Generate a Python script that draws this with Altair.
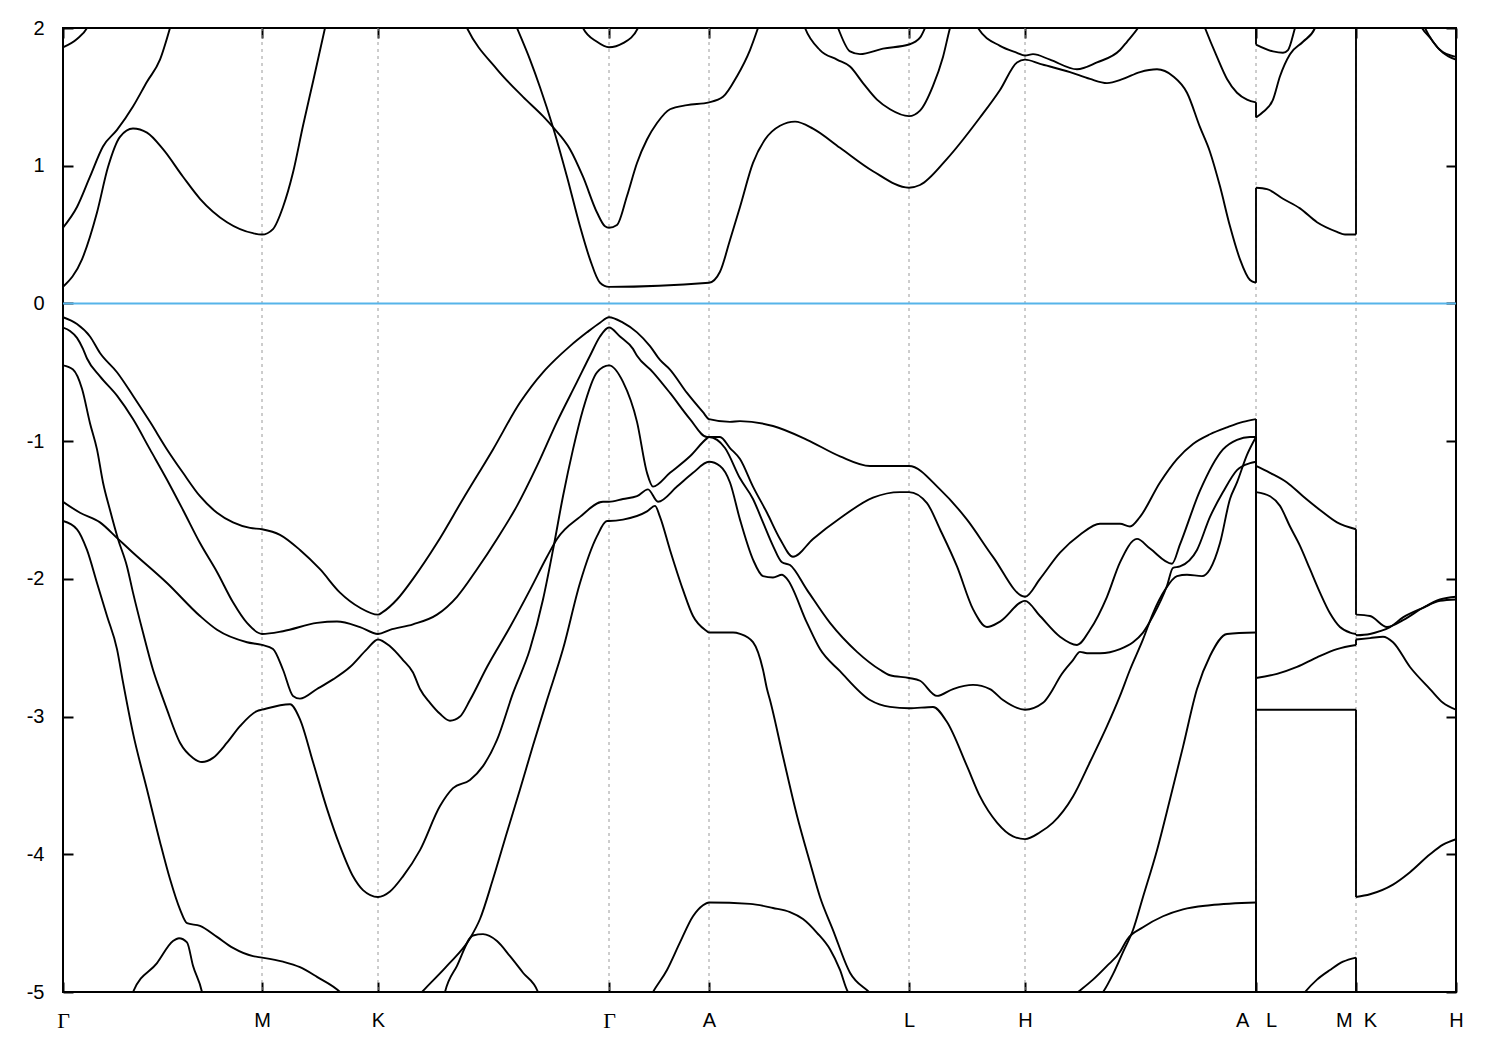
import altair as alt
import pandas as pd

# ---------------- high-symmetry path ----------------
NB = "\u00a0"
SYM_K = [0, 199, 315, 546, 646, 846, 962, 1193, 1293, 1393]
SYM_LABEL = ["Γ", "M", "K", "Γ", "A", "L", "H", "A" + NB * 3 + "L", "M" + NB * 2 + "K", "H"]
E_TICKS = [2, 1, 0, -1, -2, -3, -4, -5]
E_MIN, E_MAX = -5, 2

# ---------------- conduction bands ----------------
c1_k = [0,19,34,45,57,70,84,100,120,137,164,190,199,210,220,230,240,250,262,277,315,437,454,467,477,490,504,517,527,537,546,646,657,667,677,690,702,717,732,750,777,810,846,857,884,917,937,954,962,977,1007,1027,1044,1060,1077,1094,1110,1124,1137,1147,1157,1167,1177,1187,1193,1193,1204,1220,1237,1254,1274,1282,1293,1293,1345,1362,1370,1380,1393]
c1_e = [0.12,0.32,0.66,0.99,1.21,1.27,1.24,1.12,0.92,0.76,0.59,0.51,0.50,0.54,0.70,0.95,1.29,1.61,2.0,2.5,3.0,2.3,2.0,1.77,1.57,1.28,0.92,0.56,0.32,0.15,0.12,0.15,0.23,0.46,0.70,1.02,1.19,1.29,1.32,1.27,1.13,0.96,0.84,0.86,1.05,1.35,1.55,1.75,1.77,1.74,1.68,1.63,1.60,1.63,1.68,1.70,1.65,1.53,1.28,1.10,0.85,0.56,0.32,0.17,0.15,0.84,0.83,0.76,0.69,0.59,0.52,0.50,0.50,2.6,2.4,2.0,1.90,1.82,1.77]

c2_k = [0,14,27,40,54,70,84,97,107,127,315,387,404,434,460,480,490,507,520,534,542,546,554,564,574,584,594,607,624,646,660,674,687,695,712,727,742,757,774,787,800,814,827,846,857,870,880,887,902,915,937,954,962,970,987,1014,1034,1057,1064,1075,1097,1127,1142,1154,1164,1174,1184,1193,1193,1200,1210,1217,1227,1240,1252,1267,1293,1340,1359,1367,1377,1384,1393]
c2_e = [0.55,0.70,0.92,1.14,1.26,1.43,1.61,1.77,2.0,2.6,3.0,2.3,2.0,1.70,1.50,1.36,1.28,1.12,0.92,0.66,0.56,0.55,0.57,0.78,1.02,1.19,1.31,1.41,1.44,1.46,1.50,1.65,1.84,2.0,2.4,2.4,2.0,1.84,1.77,1.72,1.60,1.48,1.41,1.36,1.40,1.58,1.79,2.0,2.3,2.0,1.87,1.82,1.80,1.81,1.77,1.70,1.75,1.84,1.90,2.0,2.3,2.3,2.0,1.79,1.63,1.53,1.48,1.46,1.35,1.39,1.48,1.65,1.81,1.90,2.0,2.4,2.8,2.4,2.0,1.93,1.84,1.81,1.79]

c3_k = [0,14,24,47,497,520,534,546,560,575,597,757,775,787,797,820,846,857,862,877,1193,1193,1210,1220,1225,1232,1247]
c3_e = [1.86,1.92,2.0,2.6,2.6,2.0,1.90,1.86,1.89,2.0,2.6,2.4,2.0,1.83,1.81,1.85,1.88,1.93,2.0,2.3,2.3,1.88,1.83,1.82,1.84,2.0,2.4]

# ---------------- valence bands ----------------
v1_k = [0,14,27,37,54,70,87,104,120,137,154,170,187,199,217,237,257,277,297,315,320,334,350,374,400,430,457,480,492,507,524,537,546,560,574,587,597,607,624,640,646,667,677,710,744,777,807,846,877,904,930,962,977,997,1017,1037,1057,1067,1077,1097,1114,1130,1147,1164,1180,1193,1193,1207,1224,1240,1257,1274,1293,1293,1307,1324,1340,1360,1377,1393]
v1_e = [-0.10,-0.15,-0.24,-0.36,-0.50,-0.67,-0.86,-1.06,-1.23,-1.40,-1.52,-1.59,-1.63,-1.64,-1.68,-1.79,-1.93,-2.10,-2.21,-2.26,-2.24,-2.15,-2.0,-1.74,-1.42,-1.06,-0.72,-0.50,-0.41,-0.31,-0.21,-0.14,-0.10,-0.14,-0.21,-0.31,-0.41,-0.48,-0.65,-0.79,-0.84,-0.86,-0.855,-0.89,-0.99,-1.11,-1.18,-1.18,-1.35,-1.57,-1.84,-2.13,-2.0,-1.81,-1.68,-1.60,-1.60,-1.62,-1.55,-1.30,-1.13,-1.02,-0.95,-0.90,-0.86,-0.84,-1.18,-1.23,-1.30,-1.40,-1.50,-1.59,-1.64,-2.26,-2.27,-2.35,-2.30,-2.21,-2.15,-2.13]

v2_k = [0,7,14,20,24,37,54,70,87,104,120,137,154,170,184,199,220,254,274,297,315,327,350,374,394,414,434,454,474,494,514,527,537,546,557,570,574,590,607,627,644,646,662,677,690,700,710,719,727,744,767,794,817,827,846,857,874,890,910,927,940,962,980,990,997,1010,1017,1024,1037,1057,1070,1080,1090,1104,1110,1117,1134,1147,1160,1174,1187,1193,1193,1214,1234,1254,1274,1293,1293,1307,1320,1330,1347,1367,1380,1393]
v2_e = [-0.175,-0.20,-0.25,-0.33,-0.40,-0.53,-0.67,-0.84,-1.06,-1.28,-1.50,-1.74,-1.95,-2.17,-2.32,-2.40,-2.38,-2.32,-2.31,-2.35,-2.40,-2.37,-2.33,-2.26,-2.13,-1.93,-1.71,-1.47,-1.18,-0.86,-0.57,-0.38,-0.24,-0.175,-0.24,-0.33,-0.38,-0.50,-0.65,-0.84,-0.97,-0.97,-1.05,-1.27,-1.42,-1.59,-1.76,-1.88,-1.90,-2.08,-2.32,-2.53,-2.66,-2.70,-2.72,-2.74,-2.85,-2.80,-2.77,-2.80,-2.88,-2.95,-2.90,-2.80,-2.71,-2.59,-2.53,-2.54,-2.54,-2.51,-2.46,-2.39,-2.27,-2.05,-1.92,-1.91,-1.79,-1.55,-1.37,-1.21,-1.16,-1.15,-2.72,-2.69,-2.64,-2.57,-2.51,-2.48,-2.44,-2.43,-2.42,-2.46,-2.64,-2.80,-2.90,-2.95]

v3_k = [0,10,19,27,34,40,47,55,64,70,80,90,99,104,117,130,139,150,164,177,194,199,227,237,250,264,277,290,300,315,327,340,357,377,390,407,420,434,450,467,480,490,500,510,520,534,546,560,574,584,590,607,627,644,646,657,667,677,690,704,717,730,750,777,810,837,846,864,877,894,910,924,937,962,977,997,1014,1027,1044,1057,1074,1087,1109,1117,1137,1160,1174,1187,1193,1193,1207,1217,1227,1237,1247,1257,1267,1277,1287,1293,1293,1307,1317,1327,1340,1360,1377,1393]
v3_e = [-0.45,-0.48,-0.62,-0.87,-1.06,-1.30,-1.50,-1.71,-1.91,-2.10,-2.39,-2.66,-2.85,-2.95,-3.19,-3.30,-3.33,-3.30,-3.19,-3.07,-2.96,-2.95,-2.91,-3.02,-3.33,-3.67,-3.94,-4.16,-4.26,-4.31,-4.27,-4.16,-3.97,-3.65,-3.52,-3.46,-3.36,-3.17,-2.83,-2.51,-2.15,-1.79,-1.40,-1.06,-0.77,-0.50,-0.45,-0.57,-0.86,-1.23,-1.33,-1.23,-1.11,-0.98,-0.97,-0.97,-1.05,-1.13,-1.33,-1.52,-1.71,-1.84,-1.71,-1.56,-1.41,-1.37,-1.37,-1.45,-1.64,-1.91,-2.22,-2.35,-2.31,-2.16,-2.27,-2.42,-2.48,-2.37,-2.13,-1.88,-1.71,-1.78,-1.89,-1.75,-1.36,-1.06,-0.99,-0.97,-0.97,-1.37,-1.40,-1.47,-1.62,-1.76,-1.93,-2.10,-2.25,-2.35,-2.39,-2.40,-2.41,-2.40,-2.38,-2.35,-2.28,-2.21,-2.16,-2.15]

v4_k = [0,17,37,55,70,104,137,154,184,199,210,220,230,237,254,270,287,304,315,327,340,350,357,367,377,387,397,407,424,447,467,484,494,517,540,546,560,574,585,595,614,630,646,657,667,677,690,700,710,719,724,744,757,777,807,827,846,870,884,904,917,934,950,962,977,990,1010,1027,1044,1057,1067,1080,1090,1102,1114,1124,1139,1147,1157,1167,1174,1184,1193,1193,1264,1293,1293,1307,1330,1347,1367,1380,1393]
v4_e = [-1.44,-1.52,-1.59,-1.71,-1.81,-2.03,-2.27,-2.37,-2.46,-2.48,-2.51,-2.66,-2.85,-2.87,-2.80,-2.73,-2.64,-2.51,-2.44,-2.49,-2.59,-2.68,-2.80,-2.90,-2.98,-3.03,-3.0,-2.88,-2.64,-2.35,-2.08,-1.84,-1.71,-1.55,-1.44,-1.44,-1.42,-1.40,-1.35,-1.44,-1.33,-1.23,-1.15,-1.18,-1.30,-1.57,-1.86,-1.98,-1.99,-1.97,-2.0,-2.32,-2.51,-2.67,-2.88,-2.93,-2.94,-2.93,-3.04,-3.36,-3.58,-3.77,-3.87,-3.89,-3.84,-3.77,-3.58,-3.33,-3.07,-2.85,-2.66,-2.44,-2.25,-2.08,-1.98,-1.97,-1.98,-1.93,-1.74,-1.42,-1.30,-1.10,-0.97,-2.95,-2.95,-2.95,-4.31,-4.29,-4.22,-4.13,-4.0,-3.93,-3.89]

v5_k = [0,14,24,34,44,54,60,70,84,97,107,117,124,137,154,170,190,199,220,237,254,277,315,359,384,407,417,430,444,457,470,484,500,517,534,544,546,560,584,592,597,607,620,630,644,646,670,677,690,700,704,707,720,734,747,757,770,787,806,920,1040,1050,1060,1070,1080,1094,1107,1120,1134,1147,1164,1193,1193,1242,1254,1267,1280,1293,1293,1393]
v5_e = [-1.58,-1.64,-1.79,-2.03,-2.27,-2.51,-2.75,-3.12,-3.53,-3.91,-4.18,-4.40,-4.50,-4.52,-4.60,-4.68,-4.74,-4.75,-4.78,-4.82,-4.89,-5.0,-5.4,-5.0,-4.81,-4.61,-4.47,-4.18,-3.84,-3.53,-3.21,-2.88,-2.51,-2.03,-1.69,-1.58,-1.58,-1.57,-1.51,-1.47,-1.55,-1.79,-2.08,-2.27,-2.38,-2.39,-2.39,-2.40,-2.46,-2.66,-2.80,-2.88,-3.29,-3.72,-4.06,-4.31,-4.55,-4.86,-5.0,-5.6,-5.0,-4.87,-4.71,-4.55,-4.31,-3.97,-3.60,-3.22,-2.80,-2.56,-2.40,-2.39,-5.6,-5.0,-4.91,-4.84,-4.78,-4.75,-5.6,-5.6]

v6_k = [60,70,94,110,116,124,130,139,148]
v6_e = [-5.4,-5.0,-4.79,-4.63,-4.61,-4.64,-4.81,-5.0,-5.4]

v7_k = [372,382,394,410,420,434,447,460,475,485]
v7_e = [-5.4,-5.0,-4.81,-4.59,-4.58,-4.63,-4.74,-4.86,-5.0,-5.4]

v8_k = [546,590,604,617,630,640,646,687,710,727,740,754,767,777,785,900,1015,1030,1044,1057,1064,1080,1100,1120,1147,1193,1193]
v8_e = [-5.8,-5.0,-4.84,-4.64,-4.45,-4.37,-4.35,-4.36,-4.39,-4.42,-4.47,-4.57,-4.69,-4.84,-5.0,-5.6,-5.0,-4.91,-4.81,-4.71,-4.62,-4.53,-4.45,-4.40,-4.37,-4.35,-5.8]

bands = {
    "c1": (c1_k, c1_e), "c2": (c2_k, c2_e), "c3": (c3_k, c3_e),
    "v1": (v1_k, v1_e), "v2": (v2_k, v2_e), "v3": (v3_k, v3_e),
    "v4": (v4_k, v4_e), "v5": (v5_k, v5_e), "v6": (v6_k, v6_e),
    "v7": (v7_k, v7_e), "v8": (v8_k, v8_e),
}

# split every band where the path jumps (same k twice): smooth pieces + vertical connectors
rows, jumps = [], []
for name, (ks, es) in bands.items():
    seg = 0
    for i, (k, e) in enumerate(zip(ks, es)):
        if i > 0 and k == ks[i - 1]:
            jumps.append({"k": k, "e1": es[i - 1], "e2": e})
            seg += 1
        rows.append({"band": f"{name}_{seg}", "k": k, "E": e, "i": i})
df = pd.DataFrame(rows)
jump_df = pd.DataFrame(jumps)

sym_df = pd.DataFrame({"k": SYM_K[1:-1]})
zero_df = pd.DataFrame({"E": [0]})

xscale = alt.Scale(domain=[SYM_K[0], SYM_K[-1]], nice=False, zero=False)
yscale = alt.Scale(domain=[E_MIN, E_MAX], nice=False, zero=False)

label_expr = "''"
for k, lab in reversed(list(zip(SYM_K, SYM_LABEL))):
    label_expr = f"datum.value == {k} ? '{lab}' : ({label_expr})"
gamma_test = " || ".join(f"datum.value == {k}" for k, lab in zip(SYM_K, SYM_LABEL) if lab == "Γ")

FONT = "Liberation Sans"
FS = 20
LW = 1.9

axis_common = dict(tickSize=10, offset=-10, domain=False, grid=False, tickColor="black",
                   tickWidth=2, title=None, labelColor="black")

x_bottom = alt.Axis(orient="bottom", values=SYM_K, labelExpr=label_expr, labelPadding=18,
                    labelAngle=0, labelOverlap=False, labelFlush=False, labelBound=False,
                    labelFontSize=alt.condition(gamma_test, alt.value(22), alt.value(FS)),
                    labelFont=alt.condition(gamma_test, alt.value("Liberation Serif"), alt.value(FONT)),
                    **axis_common)
x_top = alt.Axis(orient="top", values=SYM_K, labels=False, **axis_common)
y_left = alt.Axis(orient="left", values=E_TICKS, labelExpr="'' + datum.value", labelPadding=19,
                  labelFontSize=FS, labelFont=FONT, labelOverlap=False, labelFlush=False,
                  labelBound=False, **axis_common)
y_right = alt.Axis(orient="right", values=E_TICKS, labels=False, **axis_common)

grid = alt.Chart(sym_df).mark_rule(color="#9a9a9a", strokeWidth=1, strokeDash=[3, 4]).encode(
    x=alt.X("k:Q", scale=xscale, axis=x_top)
)

zero = alt.Chart(zero_df).mark_rule(color="#56b4e9", strokeWidth=2).encode(
    y=alt.Y("E:Q", scale=yscale, axis=y_right)
)

lines = alt.Chart(df).mark_line(clip=True, color="black", strokeWidth=LW,
                                interpolate="monotone").encode(
    x=alt.X("k:Q", scale=xscale, axis=x_bottom),
    y=alt.Y("E:Q", scale=yscale, axis=y_left),
    detail="band:N",
    order="i:Q",
)

jump_rules = alt.Chart(jump_df).mark_rule(clip=True, color="black", strokeWidth=LW).encode(
    x=alt.X("k:Q", scale=xscale, axis=None),
    y=alt.Y("e1:Q", scale=yscale, axis=None),
    y2="e2:Q",
)

chart = alt.layer(grid, zero, lines, jump_rules).resolve_axis(
    x="independent", y="independent"
).properties(
    width=1393, height=964,
    autosize=alt.AutoSizeParams(type="none"),
    padding={"left": 55, "top": 20, "right": 36, "bottom": 50},
).configure_view(stroke="black", strokeWidth=2)

chart.save("out.html", embed_options={"renderer": "svg", "actions": False})
